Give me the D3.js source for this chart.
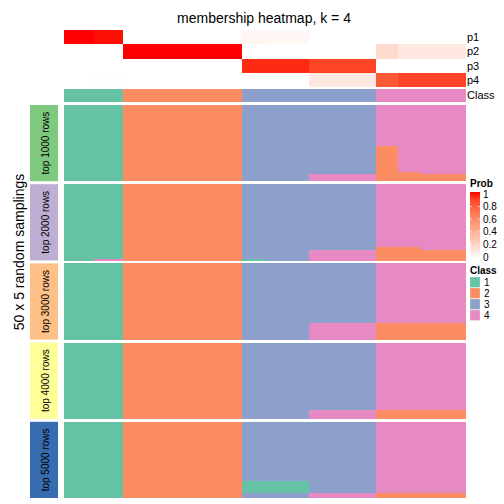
<!DOCTYPE html>
<html><head><meta charset="utf-8">
<script src="https://cdn.jsdelivr.net/npm/d3@7"></script>
<style>body{margin:0;background:#fff}svg{display:block}text{font-family:"Liberation Sans",Arial,sans-serif}</style>
</head><body><svg id="c" width="504" height="504"></svg>
<script>
// ---- data ----
const classes = [1, 2, 3, 4];
const classColors = ["#66c2a5", "#fc8d62", "#8da0cb", "#e78ac3"];
const probRows = ["p1", "p2", "p3", "p4"];
// column groups of samples (left to right)
const groupSizes = [4, 4, 16, 3, 6, 9, 3, 3, 6];
const groupClass = [1, 1, 2, 3, 3, 3, 4, 4, 4];
const groupP1 = [1.00, 0.99, 0.00, 0.05, 0.04, 0.00, 0.00, 0.00, 0.00];
const groupP2 = [0.00, 0.00, 1.00, 0.00, 0.00, 0.00, 0.19, 0.12, 0.12];
const groupP3 = [0.00, 0.00, 0.00, 0.95, 0.95, 0.88, 0.00, 0.00, 0.00];
const groupP4 = [0.00, 0.01, 0.00, 0.00, 0.00, 0.12, 0.81, 0.88, 0.88];
const blockLabels = ["top 1000 rows", "top 2000 rows", "top 3000 rows", "top 4000 rows", "top 5000 rows"];
const blockColors = ["#7fc97f", "#beaed4", "#fdc086", "#ffff99", "#386cb0"];
const nSamplings = 50;
// per block, per column group: runs of [class, count] from top to bottom
const blockRuns = [
  [[[1,50]], [[1,50]], [[2,50]], [[3,50]], [[3,50]], [[3,45],[4,5]], [[4,27],[2,23]], [[4,44],[2,6]], [[4,45],[2,5]]],
  [[[1,50]], [[1,49],[4,1]], [[2,50]], [[3,49],[1,1]], [[3,50]], [[3,43],[4,7]], [[4,41],[2,9]], [[4,41],[2,9]], [[4,43],[2,7]]],
  [[[1,50]], [[1,50]], [[2,50]], [[3,50]], [[3,50]], [[3,39],[4,11]], [[4,39],[2,11]], [[4,39],[2,11]], [[4,39],[2,11]]],
  [[[1,50]], [[1,50]], [[2,50]], [[3,50]], [[3,50]], [[3,44],[4,6]], [[4,44],[2,6]], [[4,44],[2,6]], [[4,44],[2,6]]],
  [[[1,50]], [[1,50]], [[2,50]], [[3,39],[1,8],[3,3]], [[3,39],[1,8],[3,3]], [[3,47],[4,3]], [[4,47],[2,3]], [[4,47],[2,3]], [[4,47],[2,3]]]
];
const probTicks = [0, 0.2, 0.4, 0.6, 0.8, 1];

// ---- build samples ----
const samples = [];
groupSizes.forEach((n, g) => { for (let i = 0; i < n; i++) samples.push({ id: samples.length, g }); });
const probs = [groupP1, groupP2, groupP3, groupP4];

const svg = d3.select("#c");
const x = d3.scaleBand().domain(samples.map(d => d.id)).range([64, 465]).padding(0);
const colorCls = d3.scaleOrdinal().domain(classes).range(classColors);
const probColor = d3.scaleLinear().domain([0, 1]).range(["#ffffff", "#ff0000"]).interpolate(d3.interpolateLab);

// title
svg.append("text").attr("x", 264).attr("y", 23).attr("text-anchor", "middle")
  .attr("font-size", 14).text("membership heatmap, k = 4");

// top annotation: probs
const yP = d3.scaleBand().domain(probRows).range([30, 87]);
const gTop = svg.append("g").attr("shape-rendering", "crispEdges");
probRows.forEach((p, k) => {
  gTop.selectAll(null).data(samples).join("rect")
    .attr("x", d => x(d.id)).attr("width", x.bandwidth() + 0.5)
    .attr("y", yP(p)).attr("height", yP.bandwidth() + 0.3)
    .attr("fill", d => probColor(probs[k][d.g]));
  svg.append("text").attr("x", 467).attr("y", yP(p) + yP.bandwidth() / 2 + 4)
    .attr("font-size", 11).text(p);
});
// class annotation
gTop.selectAll(null).data(samples).join("rect")
  .attr("x", d => x(d.id)).attr("width", x.bandwidth() + 0.5)
  .attr("y", 88.5).attr("height", 13.5)
  .attr("fill", d => colorCls(groupClass[d.g]));
svg.append("text").attr("x", 467).attr("y", 99).attr("font-size", 11).text("Class");

// main blocks
const yB = d3.scaleBand().domain(blockLabels).range([105, 498]).paddingInner(0.038);
const gMain = svg.append("g").attr("shape-rendering", "crispEdges");
blockLabels.forEach((lab, b) => {
  const y0 = yB(lab), h = yB.bandwidth();
  const yR = d3.scaleBand().domain(d3.range(nSamplings)).range([y0, y0 + h]);
  const cells = [];
  samples.forEach(s => {
    let r = 0;
    blockRuns[b][s.g].forEach(([cls, cnt]) => {
      cells.push({ s: s.id, r0: r, cnt, cls });
      r += cnt;
    });
  });
  gMain.selectAll(null).data(cells).join("rect")
    .attr("x", d => x(d.s)).attr("width", x.bandwidth() + 0.5)
    .attr("y", d => yR(d.r0)).attr("height", d => yR.step() * d.cnt + 0.3)
    .attr("fill", d => colorCls(d.cls));
  // left annotation
  svg.append("rect").attr("x", 30).attr("width", 28).attr("y", y0).attr("height", h)
    .attr("fill", blockColors[b]);
  svg.append("text").attr("transform", `translate(48.5,${y0 + h / 2}) rotate(-90)`)
    .attr("text-anchor", "middle").attr("font-size", 10).text(lab);
});

svg.append("text").attr("transform", "translate(24,252) rotate(-90)")
  .attr("text-anchor", "middle").attr("font-size", 14).text("50 x 5 random samplings");

// Prob legend
const defs = svg.append("defs");
const grad = defs.append("linearGradient").attr("id", "pg").attr("x1", 0).attr("x2", 0).attr("y1", 1).attr("y2", 0);
d3.range(0, 1.01, 0.1).forEach(t => grad.append("stop").attr("offset", t).attr("stop-color", probColor(t)));
const yL = d3.scaleLinear().domain([0, 1]).range([257, 194]);
svg.append("text").attr("x", 470).attr("y", 187).attr("font-size", 10).attr("font-weight", "bold").text("Prob");
svg.append("rect").attr("x", 470).attr("y", 192).attr("width", 10).attr("height", 67).attr("fill", "url(#pg)");
probTicks.forEach(t => {
  if (t > 0 && t < 1) {
    svg.append("line").attr("x1", 470).attr("x2", 472).attr("y1", yL(t)).attr("y2", yL(t)).attr("stroke", "#fff").attr("stroke-opacity", 0.6);
    svg.append("line").attr("x1", 478).attr("x2", 480).attr("y1", yL(t)).attr("y2", yL(t)).attr("stroke", "#fff").attr("stroke-opacity", 0.6);
  }
  svg.append("text").attr("x", 483).attr("y", yL(t) + 3.5).attr("font-size", 10).text(d3.format("~g")(t));
});

// Class legend
svg.append("text").attr("x", 470).attr("y", 274).attr("font-size", 10).attr("font-weight", "bold").text("Class");
classes.forEach((c, i) => {
  svg.append("rect").attr("x", 470).attr("y", 277 + i * 11).attr("width", 10).attr("height", 10.5)
    .attr("fill", colorCls(c)).attr("stroke", "#fff").attr("stroke-opacity", 0.5).attr("stroke-width", 0.5);
  svg.append("text").attr("x", 484).attr("y", 277 + i * 11 + 9).attr("font-size", 10).text(c);
});
</script></body></html>
